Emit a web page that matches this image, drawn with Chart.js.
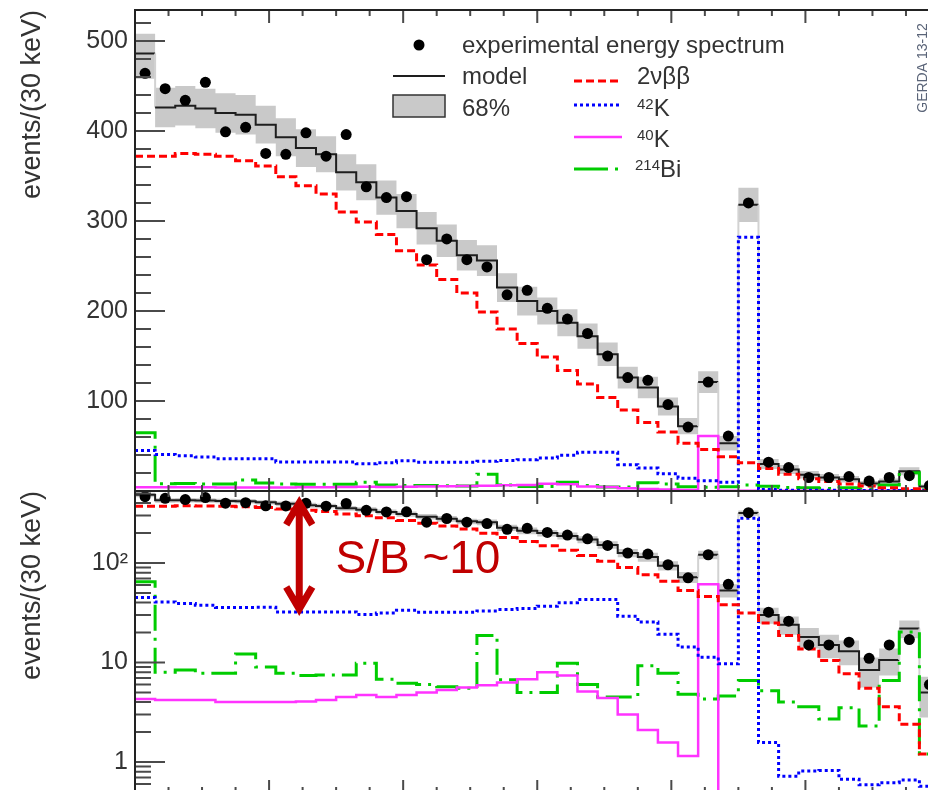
<!DOCTYPE html>
<html>
<head>
<meta charset="utf-8">
<script src="https://cdn.jsdelivr.net/npm/chart.js@4.4.1/dist/chart.umd.min.js"></script>
<style>
  html, body { margin: 0; padding: 0; background: #fff; overflow: hidden; }
  #wrap { position: relative; width: 928px; height: 790px; overflow: hidden; background: #fff; }
  #topChart { position: absolute; left: 0; top: 0; }
  #botChart { position: absolute; left: 0; top: 481px; }
</style>
</head>
<body>
<div id="wrap">
  <canvas id="topChart" width="945" height="501"></canvas>
  <canvas id="botChart" width="945" height="330"></canvas>
</div>
<script>
const FONT = '"Liberation Sans", Arial, Helvetica, sans-serif';

// 30 keV bins, 600 - 1800 keV
const binEdges = [600, 630, 660, 690, 720, 750, 780, 810, 840, 870, 900, 930, 960, 990,
  1020, 1050, 1080, 1110, 1140, 1170, 1200, 1230, 1260, 1290, 1320, 1350, 1380, 1410,
  1440, 1470, 1500, 1530, 1560, 1590, 1620, 1650, 1680, 1710, 1740, 1770, 1800];

// experimental energy spectrum (points)
const dataCounts = [464, 447, 434, 454, 399, 404, 375, 374, 398, 372,
  396, 338, 326, 327, 257, 280, 257, 249, 218, 223,
  203, 191, 175, 150, 126, 123, 96, 71, 121, 61,
  320, 32, 26, 15, 15, 16, 11, 15, 17, 6];
// model sum and its 68% band
const modelTotal = [486, 426, 428, 425, 420, 418, 407, 393, 381, 374,
  354, 343, 326, 311, 292, 278, 262, 256, 226, 211,
  200, 187, 172, 152, 126, 115, 94, 72, 121, 53,
  318, 30, 24, 18, 15, 13, 8.4, 10.6, 22, 5];
const bandLow = [458, 404, 406, 403, 398, 396, 386, 372, 360, 354,
  334, 323, 307, 292, 274, 260, 245, 239, 210, 195,
  185, 172, 158, 139, 114, 103, 84, 63, 109, 45,
  299, 24.5, 19, 13.8, 11, 9.4, 5.6, 7.4, 17.5, 2.8];
const bandHigh = [508, 448, 450, 447, 442, 440, 428, 414, 402, 394,
  374, 363, 345, 330, 310, 296, 279, 273, 242, 227,
  215, 202, 186, 165, 138, 127, 104, 81, 133, 61,
  337, 35.5, 29, 22.2, 19, 16.6, 11.2, 13.8, 26.5, 7.2];
// components
const bb2nu = [372, 372, 375, 374, 372, 367, 361, 349, 339, 330,
  310, 299, 285, 267, 251, 235, 220, 199, 180, 164,
  149, 134, 119, 104, 90, 76, 65.5, 53, 46, 38,
  31.5, 25, 18.7, 13.7, 10.5, 7.7, 5.5, 3.6, 2.4, 1.2];
const k42 = [45, 40.6, 39.2, 37.7, 35.7, 35.7, 35.9, 32.2, 32.2, 32.2,
  32.2, 30.3, 31.5, 33.5, 32, 32, 32, 33, 34, 34.8,
  36.8, 39.8, 43, 43, 29.2, 25.5, 19.2, 14.3, 11.3, 9.7,
  282, 1.57, 0.72, 0.81, 0.82, 0.67, 0.59, 0.62, 0.66, 0.57];
const k40 = [4.3, 4.2, 4.2, 4.2, 4.0, 4.0, 4.0, 4.0, 4.05, 4.2,
  4.5, 4.7, 4.5, 4.7, 5.0, 5.3, 5.6, 5.9, 6.3, 6.8,
  8.0, 7.4, 5.1, 4.4, 3.0, 2.1, 1.57, 1.15, 61, 0.2,
  0.2, 0.2, 0.2, 0.2, 0.2, 0.2, 0.2, 0.2, 0.2, 0.2];
const bi214 = [64.7, 8.0, 8.4, 7.8, 7.8, 12.2, 9.0, 7.8, 7.4, 7.5,
  7.5, 9.8, 6.8, 6.2, 6.0, 5.7, 5.5, 18.7, 6.7, 5.0,
  5.0, 9.8, 6.0, 4.5, 4.5, 9.3, 7.8, 4.8, 4.3, 4.6,
  6.6, 5.2, 4.0, 3.6, 2.7, 3.5, 2.3, 6.6, 20.2, 1.2];

// axis ticks
const xMajorTicks = [600, 800, 1000, 1200, 1400, 1600, 1800];
const xMinorStep = 50;
const linTickLabels = [100, 200, 300, 400, 500];
const linMinorStep = 20;
const logTickLabels = [1, 10, 100];

// S/B annotation (energy, counts)
const sbArrow = { energy: 845, from: 30, to: 463 };
const sbText = { energy: 899, counts: 79, text: 'S/B ~10' };

// histogram outline: two points per bin
function histLine(values) {
  const pts = [];
  values.forEach((v, i) => {
    pts.push({ x: binEdges[i], y: v }, { x: binEdges[i + 1], y: v });
  });
  return pts;
}
function binCenters(values) {
  return values.map((v, i) => ({ x: (binEdges[i] + binEdges[i + 1]) / 2, y: v }));
}

function makeDatasets(isLog) {
  const bigJump = (a, b) => isLog ? Math.max(a, b) / Math.min(a, b) > 1.6 : Math.abs(a - b) > 40;
  const line = { pointRadius: 0, fill: false, tension: 0 };
  return [
    { ...line, label: '68%', data: histLine(bandHigh), borderColor: 'transparent', borderWidth: 1,
      backgroundColor: '#c9c9c9', fill: '+1', order: 10 },
    { ...line, label: '68% low', data: histLine(bandLow), borderColor: 'transparent', borderWidth: 1, order: 9 },
    { ...line, label: 'model', data: histLine(modelTotal), borderColor: '#1e1e1e', borderWidth: 2, order: 8,
      segment: {
        borderColor: c => (c.p0.parsed.x === c.p1.parsed.x && bigJump(c.p0.parsed.y, c.p1.parsed.y)) ? '#d2d2d2' : undefined
      } },
    { ...line, label: '214Bi', data: histLine(bi214), borderColor: '#00cc00', borderWidth: 3,
      borderDash: [26, 7, 3, 7], order: 7 },
    { ...line, label: '40K', data: histLine(k40), borderColor: '#ff33ff', borderWidth: 2.5, order: 6 },
    { ...line, label: '42K', data: histLine(k42), borderColor: '#0000ff', borderWidth: 3,
      borderDash: [3, 3], order: 5 },
    { ...line, label: '2vbb', data: histLine(bb2nu), borderColor: '#ff0000', borderWidth: 3,
      borderDash: [8, 4], order: 4 },
    { label: 'experimental energy spectrum', data: binCenters(dataCounts), showLine: false,
      pointRadius: 5.5, pointBackgroundColor: '#000', pointBorderColor: '#000', pointBorderWidth: 0, order: 0 }
  ];
}

function yAxis(type, min, max, tickValues, fmt) {
  return {
    type: type, min: min, max: max,
    afterBuildTicks: s => { s.ticks = tickValues.map(v => ({ value: v })); },
    afterFit: s => { s.width = 135; s.paddingTop = 0; s.paddingBottom = 0; },
    grid: { display: false, drawTicks: false },
    border: { display: false },
    ticks: { padding: 7, color: '#333', font: { family: FONT, size: 25 }, callback: fmt },
    title: { display: true, text: 'events/(30 keV)', align: 'end', color: '#333',
      font: { family: FONT, size: 27 }, padding: { top: 16, bottom: 0 } }
  };
}

// inward ticks and frame, ROOT style
function frameTicks(yMajor, yMinor) {
  return {
    id: 'frameTicks',
    afterDatasetsDraw(chart) {
      const { ctx, chartArea: a, scales: { x, y } } = chart;
      ctx.save();
      ctx.strokeStyle = '#4a4a4a';
      ctx.lineWidth = 2;
      ctx.beginPath();
      for (let v = xMajorTicks[0]; v <= xMajorTicks[xMajorTicks.length - 1]; v += xMinorStep) {
        const px = x.getPixelForValue(v);
        const len = xMajorTicks.includes(v) ? 13 : 6;
        ctx.moveTo(px, a.top); ctx.lineTo(px, a.top + len);
        ctx.moveTo(px, a.bottom); ctx.lineTo(px, a.bottom - len);
      }
      yMajor.forEach(v => {
        const py = y.getPixelForValue(v);
        ctx.moveTo(a.left, py); ctx.lineTo(a.left + 30, py);
      });
      yMinor.forEach(v => {
        const py = y.getPixelForValue(v);
        if (py < a.top || py > a.bottom) return;
        ctx.moveTo(a.left, py); ctx.lineTo(a.left + 16, py);
      });
      ctx.stroke();
      ctx.strokeStyle = '#222';
      ctx.beginPath();
      ctx.moveTo(a.right, a.top); ctx.lineTo(a.left, a.top);
      ctx.lineTo(a.left, a.bottom); ctx.lineTo(a.right, a.bottom);
      ctx.stroke();
      ctx.restore();
    }
  };
}

function supLabel(ctx, x, y, sup, main) {
  ctx.font = '15px ' + FONT;
  ctx.fillText(sup, x, y - 7);
  const w = ctx.measureText(sup).width;
  ctx.font = '24px ' + FONT;
  ctx.fillText(main, x + w, y);
}

const legendPlugin = {
  id: 'rootLegend',
  afterDraw(chart) {
    const ctx = chart.ctx;
    ctx.save();
    ctx.fillStyle = '#333';
    ctx.textBaseline = 'alphabetic';
    ctx.font = '24px ' + FONT;
    // left column
    ctx.fillStyle = '#000';
    ctx.beginPath(); ctx.arc(419, 45, 5.5, 0, Math.PI * 2); ctx.fill();
    ctx.fillStyle = '#333';
    ctx.fillText('experimental energy spectrum', 462, 53);
    ctx.strokeStyle = '#1e1e1e'; ctx.lineWidth = 2;
    ctx.beginPath(); ctx.moveTo(393, 76); ctx.lineTo(445, 76); ctx.stroke();
    ctx.fillText('model', 462, 84);
    ctx.fillStyle = '#c9c9c9';
    ctx.fillRect(393, 95, 52, 22);
    ctx.strokeStyle = '#333'; ctx.lineWidth = 1.5;
    ctx.strokeRect(393, 95, 52, 22);
    ctx.fillStyle = '#333';
    ctx.fillText('68%', 462, 116);
    // right column
    const rows = [
      { y: 81, color: '#ff0000', dash: [8, 4], w: 3 },
      { y: 105, color: '#0000ff', dash: [3, 3], w: 3 },
      { y: 137, color: '#ff33ff', dash: [], w: 2.5 },
      { y: 169, color: '#00cc00', dash: [34, 7, 3, 7], w: 3 }
    ];
    rows.forEach(r => {
      ctx.strokeStyle = r.color; ctx.lineWidth = r.w; ctx.setLineDash(r.dash);
      ctx.beginPath(); ctx.moveTo(574, r.y); ctx.lineTo(622, r.y); ctx.stroke();
    });
    ctx.setLineDash([]);
    ctx.font = '24px ' + FONT;
    ctx.fillText('2\u03bd\u03b2\u03b2', 637, 84);
    supLabel(ctx, 637, 116, '42', 'K');
    supLabel(ctx, 637, 147, '40', 'K');
    supLabel(ctx, 635, 177, '214', 'Bi');
    // experiment tag
    ctx.translate(923, 68);
    ctx.rotate(-Math.PI / 2);
    ctx.font = '14px ' + FONT;
    ctx.fillStyle = '#5a6478';
    ctx.textAlign = 'center';
    ctx.textBaseline = 'middle';
    ctx.fillText('GERDA 13-12', 0, 0);
    ctx.restore();
  }
};

const sbPlugin = {
  id: 'sbNote',
  afterDraw(chart) {
    const { ctx, scales: { x, y } } = chart;
    const ax = x.getPixelForValue(sbArrow.energy);
    const yTop = y.getPixelForValue(sbArrow.to) + 6;
    const yBot = y.getPixelForValue(sbArrow.from) - 6;
    ctx.save();
    ctx.strokeStyle = '#c00000';
    ctx.lineWidth = 7;
    ctx.lineJoin = 'miter';
    ctx.beginPath();
    ctx.moveTo(ax, yTop + 2); ctx.lineTo(ax, yBot - 2);
    ctx.moveTo(ax - 13, yTop + 22); ctx.lineTo(ax, yTop); ctx.lineTo(ax + 13, yTop + 22);
    ctx.moveTo(ax - 13, yBot - 22); ctx.lineTo(ax, yBot); ctx.lineTo(ax + 13, yBot - 22);
    ctx.stroke();
    ctx.fillStyle = '#c00000';
    ctx.font = '46px ' + FONT;
    ctx.textBaseline = 'alphabetic';
    ctx.fillText(sbText.text, x.getPixelForValue(sbText.energy), y.getPixelForValue(sbText.counts));
    ctx.restore();
  }
};

const commonOptions = {
  responsive: false,
  animation: false,
  events: [],
  plugins: { legend: { display: false }, tooltip: { enabled: false } }
};

// top panel, linear
const linMinor = [];
for (let v = linMinorStep; v < 534; v += linMinorStep) if (!linTickLabels.includes(v)) linMinor.push(v);
new Chart(document.getElementById('topChart'), {
  type: 'line',
  data: { datasets: makeDatasets(false) },
  options: {
    ...commonOptions,
    layout: { padding: { left: 0, top: 10, right: 4, bottom: 10 } },
    scales: {
      x: { type: 'linear', min: 600, max: 1800, display: false },
      y: yAxis('linear', 0, 534.4, linTickLabels, v => String(v))
    }
  },
  plugins: [frameTicks(linTickLabels, linMinor), legendPlugin]
});

// bottom panel, log
const logMinor = [];
[0.1, 1, 10, 100].forEach(d => { for (let k = 2; k <= 9; k++) logMinor.push(k * d); });
new Chart(document.getElementById('botChart'), {
  type: 'line',
  data: { datasets: makeDatasets(true) },
  options: {
    ...commonOptions,
    layout: { padding: { left: 0, top: 10, right: 4, bottom: 18 } },
    scales: {
      x: { type: 'linear', min: 600, max: 1800, display: false },
      y: yAxis('logarithmic', 0.488, 529, logTickLabels, v => v === 100 ? '10\u00b2' : String(v))
    }
  },
  plugins: [frameTicks(logTickLabels, logMinor), sbPlugin]
});
</script>
</body>
</html>
